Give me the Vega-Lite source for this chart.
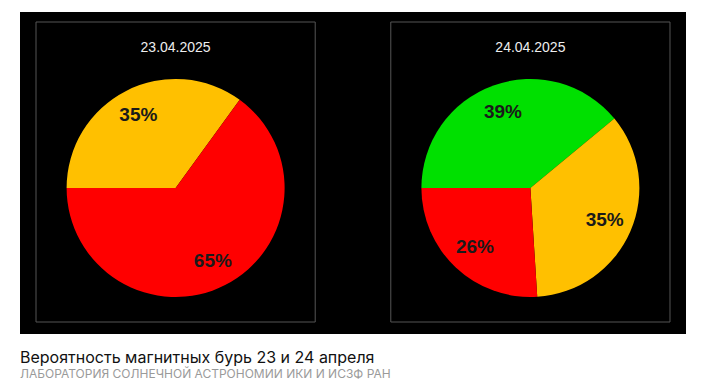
{
  "$schema": "https://vega.github.io/schema/vega-lite/v6.json",
  "autosize": {"type": "none"},
  "width": 666,
  "height": 322,
  "padding": {"left": 20, "top": 12, "right": 21, "bottom": 56},
  "background": "white",
  "view": {"fill": "#000000", "stroke": null},
  "title": {
    "text": "Вероятность магнитных бурь 23 и 24 апреля",
    "subtitle": "ЛАБОРАТОРИЯ СОЛНЕЧНОЙ АСТРОНОМИИ ИКИ И ИСЗФ РАН",
    "orient": "bottom",
    "anchor": "start",
    "offset": 16,
    "font": "Inter",
    "fontSize": 16,
    "fontWeight": "normal",
    "color": "#111111",
    "subtitleFont": "Inter",
    "subtitleFontSize": 12,
    "subtitleColor": "#9a9a9a",
    "subtitlePadding": 3
  },
  "datasets": {
    "days": [
      {"date": "23.04.2025"},
      {"date": "24.04.2025"}
    ],
    "probs": [
      {"date": "23.04.2025", "level": "yellow", "rank": 2, "value": 0.35},
      {"date": "23.04.2025", "level": "red", "rank": 3, "value": 0.65},
      {"date": "24.04.2025", "level": "green", "rank": 1, "value": 0.39},
      {"date": "24.04.2025", "level": "yellow", "rank": 2, "value": 0.35},
      {"date": "24.04.2025", "level": "red", "rank": 3, "value": 0.26}
    ]
  },
  "data": {"name": "probs"},
  "encoding": {
    "x": {
      "field": "date",
      "type": "nominal",
      "axis": null,
      "scale": {
        "type": "band",
        "domain": ["23.04.2025", "24.04.2025"],
        "paddingInner": 0.213,
        "paddingOuter": 0.0451
      }
    }
  },
  "layer": [
    {
      "data": {"name": "days"},
      "mark": {"type": "rect", "fill": null, "stroke": "#555555", "strokeWidth": 1, "y": 10, "y2": 310}
    },
    {
      "data": {"name": "days"},
      "mark": {"type": "text", "y": 36, "baseline": "middle", "align": "center", "font": "Liberation Sans", "fontSize": 14, "color": "#eeeeee"},
      "encoding": {"text": {"field": "date"}}
    },
    {
      "transform": [{"filter": "datum.date === '23.04.2025'"}],
      "mark": {"type": "arc", "y": 176, "outerRadius": 109},
      "encoding": {
        "theta": {"field": "value", "type": "quantitative", "stack": true, "scale": {"domain": [0, 1], "range": [-1.5707963, 4.712389]}},
        "order": {"field": "rank"},
        "color": {"field": "level", "type": "nominal", "legend": null, "scale": {"domain": ["green", "yellow", "red"], "range": ["#00E000", "#FFC000", "#FF0000"]}}
      }
    },
    {
      "transform": [{"filter": "datum.date === '24.04.2025'"}],
      "mark": {"type": "arc", "y": 176, "outerRadius": 109},
      "encoding": {
        "theta": {"field": "value", "type": "quantitative", "stack": true},
        "order": {"field": "rank"},
        "color": {"field": "level", "type": "nominal", "legend": null}
      }
    },
    {
      "transform": [{"filter": "datum.date === '23.04.2025'"}],
      "mark": {"type": "text", "y": 176, "radius": 82, "font": "Liberation Sans", "fontWeight": "bold", "fontSize": 19, "color": "#1a1a1a", "baseline": "middle", "align": "center"},
      "encoding": {
        "theta": {"field": "value", "type": "quantitative", "stack": true},
        "order": {"field": "rank"},
        "text": {"field": "value", "format": ".0%"}
      }
    },
    {
      "transform": [{"filter": "datum.date === '24.04.2025'"}],
      "mark": {"type": "text", "y": 176, "radius": 81, "font": "Liberation Sans", "fontWeight": "bold", "fontSize": 19, "color": "#1a1a1a", "baseline": "middle", "align": "center"},
      "encoding": {
        "theta": {"field": "value", "type": "quantitative", "stack": true},
        "order": {"field": "rank"},
        "text": {"field": "value", "format": ".0%"}
      }
    }
  ]
}
